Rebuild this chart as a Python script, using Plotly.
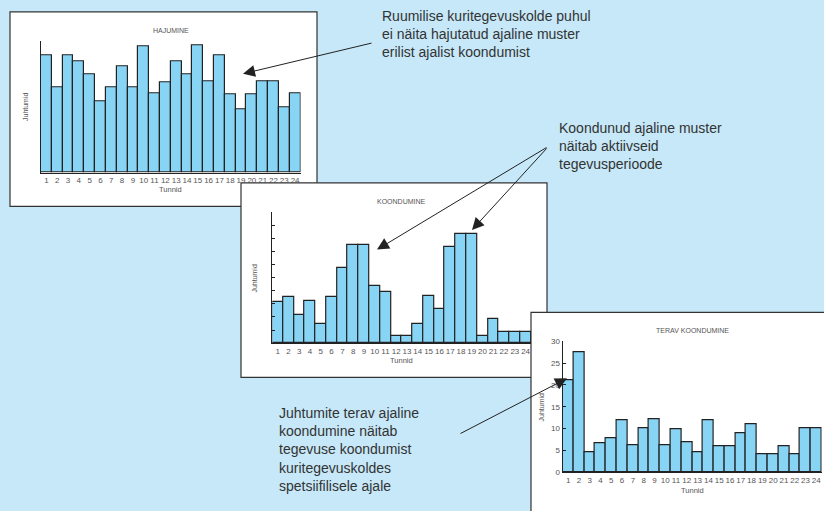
import plotly.graph_objects as go

W, H = 824, 511

hours = list(range(1, 25))
hour_labels = [str(h) for h in hours]

hajumine = [26.9, 19.4, 26.9, 25.4, 22.4, 16.4, 19.4, 24.3, 19.4, 28.8, 18.2, 20.6,
            25.4, 22.4, 29.0, 20.9, 26.9, 17.9, 14.5, 17.9, 20.9, 20.9, 14.9, 18.2]
koondumine = [9.4, 10.6, 6.4, 9.7, 4.3, 10.6, 17.3, 22.4, 22.4, 13.0, 11.8, 1.6,
              1.6, 4.3, 10.9, 7.9, 22.1, 24.9, 24.9, 1.6, 5.5, 2.5, 2.5, 2.5]
terav = [21.0, 27.5, 4.7, 6.6, 7.7, 12.0, 6.2, 10.1, 12.2, 6.2, 9.8, 6.8,
         4.7, 12.0, 5.9, 5.9, 8.9, 11.0, 4.1, 4.1, 5.9, 4.1, 10.1, 10.1]

titles = ["HAJUMINE", "KOONDUMINE", "TERAV KOONDUMINE"]
x_title = "Tunnid"
y_title = "Juhtumid"

note1 = "Ruumilise kuritegevuskolde puhul<br>ei näita hajutatud ajaline muster<br>erilist ajalist koondumist"
note2 = "Koondunud ajaline muster<br>näitab aktiivseid<br>tegevusperioode"
note3 = "Juhtumite terav ajaline<br>koondumine näitab<br>tegevuse koondumist<br>kuritegevuskoldes<br>spetsiifilisele ajale"

BG = "#c6e8f8"
BAR = "#88d4f4"
EDGE = "#222222"
LABEL = "#555555"
FONT = "Liberation Sans, Arial, sans-serif"


def px(x):
    return x / W


def py(y):
    return 1 - y / H


panels = [
    dict(box=(10, 8, 317, 206), plot=(41, 38, 300.5, 171.7), data=hajumine),
    dict(box=(241, 182, 547, 380), plot=(272.3, 211.7, 531, 345.3), data=koondumine),
    dict(box=(531, 314, 830, 520), plot=(562.7, 343.3, 821.7, 476.7), data=terav),
]

fig = go.Figure()
shapes = []
annotations = []

for i, p in enumerate(panels):
    n = "" if i == 0 else str(i + 1)
    bx0, by0, bx1, by1 = p["box"]
    shapes.append(dict(type="rect", xref="paper", yref="paper", layer="below",
                       x0=px(bx0), x1=px(bx1), y0=py(by1), y1=py(by0),
                       fillcolor="white", line=dict(color="#333333", width=1.2)))
    x0, y0, x1, y1 = p["plot"]
    fig.add_trace(go.Bar(x=hours, y=p["data"], width=1,
                         marker=dict(color=BAR, line=dict(color=EDGE, width=1.2)),
                         xaxis="x" + n, yaxis="y" + n, showlegend=False,
                         hoverinfo="x+y"))
    xa = dict(domain=[px(x0), px(x1)], range=[0.5, 24.5], anchor="y" + n,
              tickvals=hours, ticktext=hour_labels, tickangle=0,
              tickfont=dict(size=8, color=LABEL, family=FONT),
              showline=True, linecolor=EDGE, linewidth=1.2, ticks="",
              showgrid=False, zeroline=False, fixedrange=True)
    if i == 0:
        tv = [30]
    elif i == 1:
        tv = list(range(0, 31, 3))
    else:
        tv = list(range(0, 31, 5))
    ya = dict(domain=[py(y1), py(y0)], range=[0, 30], anchor="x" + n,
              tickvals=tv, ticks="inside", ticklen=3, tickcolor=EDGE,
              showline=True, linecolor=EDGE, linewidth=1.2,
              showticklabels=(i == 2),
              tickfont=dict(size=8, color=LABEL, family=FONT),
              showgrid=False, zeroline=False, fixedrange=True)
    fig.update_layout(**{"xaxis" + n: xa, "yaxis" + n: ya})

    cx = (x0 + x1) / 2
    title_y = [27, 200.7, 332.7][i]
    annotations.append(dict(text=titles[i], x=px(cx), y=py(title_y), xref="paper", yref="paper",
                            showarrow=False, xanchor="center", yanchor="middle",
                            font=dict(size=7, color=LABEL, family=FONT)))
    tun_y = [189, 363, 495][i]
    annotations.append(dict(text=x_title, x=px(cx), y=py(tun_y), xref="paper", yref="paper",
                            showarrow=False, xanchor="center", yanchor="middle",
                            font=dict(size=7.5, color=LABEL, family=FONT)))
    jx = [25, 255, 541.7][i]
    annotations.append(dict(text=y_title, x=px(jx), y=py((y0 + y1) / 2), xref="paper", yref="paper",
                            showarrow=False, xanchor="center", yanchor="middle", textangle=-90,
                            font=dict(size=7, color=LABEL, family=FONT)))

for txt, (tx, ty) in [(note1, (380, 2)), (note2, (557, 116)), (note3, (277, 406))]:
    annotations.append(dict(text=txt, x=px(tx), y=py(ty), xref="paper", yref="paper",
                            showarrow=False, xanchor="left", yanchor="top", align="left",
                            font=dict(size=14, color="#333333", family=FONT)))

arrows = [((373, 40), (243, 71)),
          ((548, 147), (377, 250)),
          ((548, 147), (472, 230)),
          ((459, 437), (567, 381))]
for (tx, ty), (hx, hy) in arrows:
    annotations.append(dict(text="", x=px(hx), y=py(hy), xref="paper", yref="paper",
                            ax=tx - hx, ay=ty - hy, showarrow=True,
                            arrowhead=2, arrowsize=2.4, arrowwidth=1, arrowcolor="#222222",
                            standoff=0))

fig.update_layout(width=W, height=H, margin=dict(l=0, r=0, t=0, b=0),
                  paper_bgcolor=BG, plot_bgcolor="rgba(0,0,0,0)",
                  bargap=0, shapes=shapes, annotations=annotations,
                  font=dict(family=FONT))

fig.write_html("out.html", config={"displayModeBar": False},
               post_script="document.body.style.margin='0';document.body.style.overflow='hidden';")
